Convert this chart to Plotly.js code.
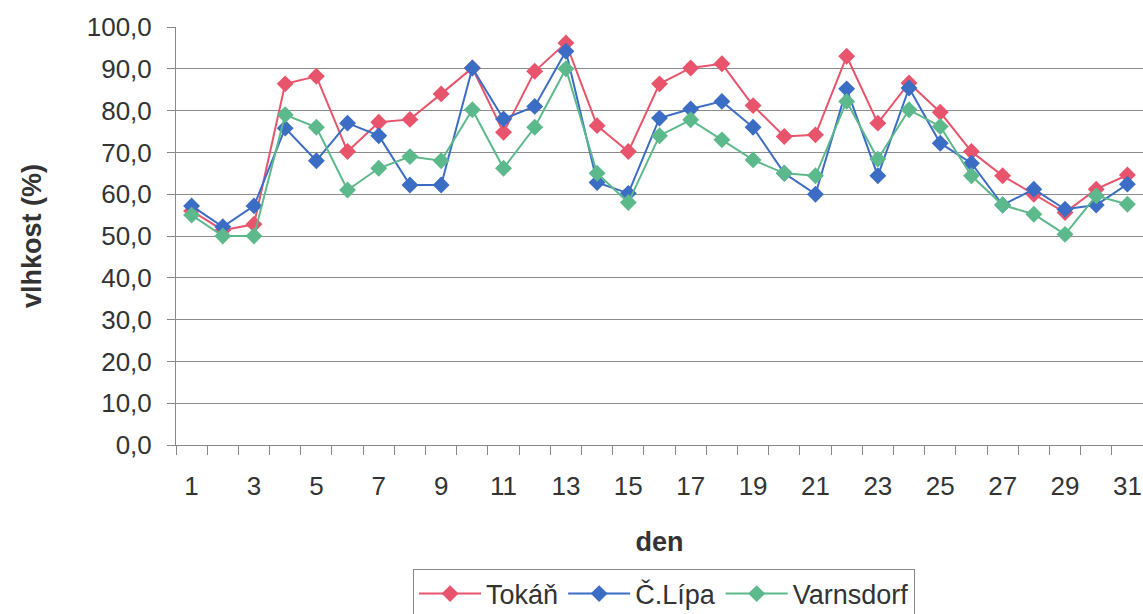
<!DOCTYPE html>
<html>
<head>
<meta charset="utf-8">
<script src="https://cdn.plot.ly/plotly-3.0.1.min.js"></script>
<style>html,body{margin:0;padding:0;background:#fff;}#chart{width:1143px;height:614px;}</style>
</head>
<body>
<div id="chart"></div>
<script>
const days = Array.from({length: 31}, (_, i) => i + 1);
const xTickVals = [1,3,5,7,9,11,13,15,17,19,21,23,25,27,29,31];
const xTickText = xTickVals.map(String);
const yTickVals = [0,10,20,30,40,50,60,70,80,90,100];
const yTickText = ['0,0','10,0','20,0','30,0','40,0','50,0','60,0','70,0','80,0','90,0','100,0'];
const gridVals = [10,20,30,40,50,60,70,80,90];
const boundaryVals = Array.from({length: 32}, (_, i) => i + 0.5);

const seriesNames = ['Tokáň', 'Č.Lípa', 'Varnsdorf'];
const tokan = [56, 51.4, 52.8, 86.4, 88.2, 70.2, 77.2, 77.9, 84, 90.2, 74.8, 89.4, 96.2, 76.4, 70.2, 86.4, 90.2, 91.2, 81.2, 73.8, 74.2, 93, 77, 86.6, 79.6, 70.2, 64.4, 60, 55.6, 61.2, 64.6];
const clipa = [57.2, 52.2, 57.2, 75.8, 68, 77, 74, 62.2, 62.2, 90.2, 78, 81, 94.2, 62.8, 60.2, 78.2, 80.4, 82.2, 76, 65, 60, 85.2, 64.4, 85.4, 72.2, 67.4, 57.4, 61.2, 56.4, 57.4, 62.4];
const varnsdorf = [55, 50, 50, 79, 76, 61, 66.2, 69, 68, 80.2, 66.2, 76, 90, 65, 58, 74, 77.8, 73, 68.2, 65, 64.4, 82.2, 68.4, 80.2, 76.2, 64.4, 57.4, 55.2, 50.4, 59.6, 57.6];
const colors = ['#e8546b', '#3c6dc5', '#5cb98b'];
const values = [tokan, clipa, varnsdorf];

const font = 'Liberation Sans, Arial, sans-serif';
const traces = values.map((v, i) => ({
  x: days, y: v, name: seriesNames[i], type: 'scatter', mode: 'lines+markers',
  line: {color: colors[i], width: 2},
  marker: {symbol: 'diamond', size: 13, color: colors[i]}
}));
// helper trace for the overlay axes (boundary ticks + gridlines)
traces.unshift({x: days, y: tokan, xaxis: 'x2', yaxis: 'y2', type: 'scatter', mode: 'lines',
  line: {width: 0, color: 'rgba(0,0,0,0)'}, opacity: 0, showlegend: false, hoverinfo: 'skip'});

const layout = {
  width: 1143, height: 614,
  margin: {l: 176, r: 0, t: 27, b: 169},
  paper_bgcolor: '#ffffff', plot_bgcolor: '#ffffff',
  font: {family: font, color: '#333333'},
  showlegend: true,
  xaxis: {
    range: [0.5, 31.5], tickmode: 'array', tickvals: xTickVals, ticktext: xTickText,
    ticks: '', showgrid: false, zeroline: false, showline: true, linecolor: '#888888', linewidth: 1,
    tickfont: {size: 26, color: '#333333', family: font}, ticklabelstandoff: 18,
    title: {text: 'den', font: {size: 27, color: '#333333', family: font, weight: 'bold'}, standoff: 31},
    automargin: false, fixedrange: true
  },
  xaxis2: {
    overlaying: 'x', anchor: 'y', side: 'bottom', range: [0.5, 31.5], tickmode: 'array', tickvals: boundaryVals,
    ticks: 'outside', ticklen: 9, tickcolor: '#888888', showticklabels: false, showgrid: false, zeroline: false, showline: false
  },
  yaxis: {
    range: [0, 100], tickmode: 'array', tickvals: yTickVals, ticktext: yTickText,
    ticks: 'outside', ticklen: 8, tickcolor: '#888888', showgrid: false, zeroline: false,
    showline: true, linecolor: '#888888', linewidth: 1,
    tickfont: {size: 26, color: '#333333', family: font}, ticklabelstandoff: 10,
    title: {text: 'vlhkost (%)', font: {size: 27, color: '#333333', family: font, weight: 'bold'}, standoff: 37},
    automargin: false, fixedrange: true
  },
  yaxis2: {
    overlaying: 'y', anchor: 'x', side: 'left', range: [0, 100], tickmode: 'array', tickvals: gridVals,
    showticklabels: false, ticks: '', showgrid: true, gridcolor: '#8c8c8c', gridwidth: 1, zeroline: false, showline: false
  },
  legend: {
    orientation: 'h', xref: 'container', yref: 'container', x: 0.581, xanchor: 'center', y: 0.074, yanchor: 'top',
    bordercolor: '#888888', borderwidth: 1, bgcolor: '#ffffff',
    font: {size: 27, color: '#333333', family: font}, itemwidth: 62, tracegroupgap: 0
  }
};
Plotly.newPlot('chart', traces, layout, {displayModeBar: false, staticPlot: true});
</script>
</body>
</html>
